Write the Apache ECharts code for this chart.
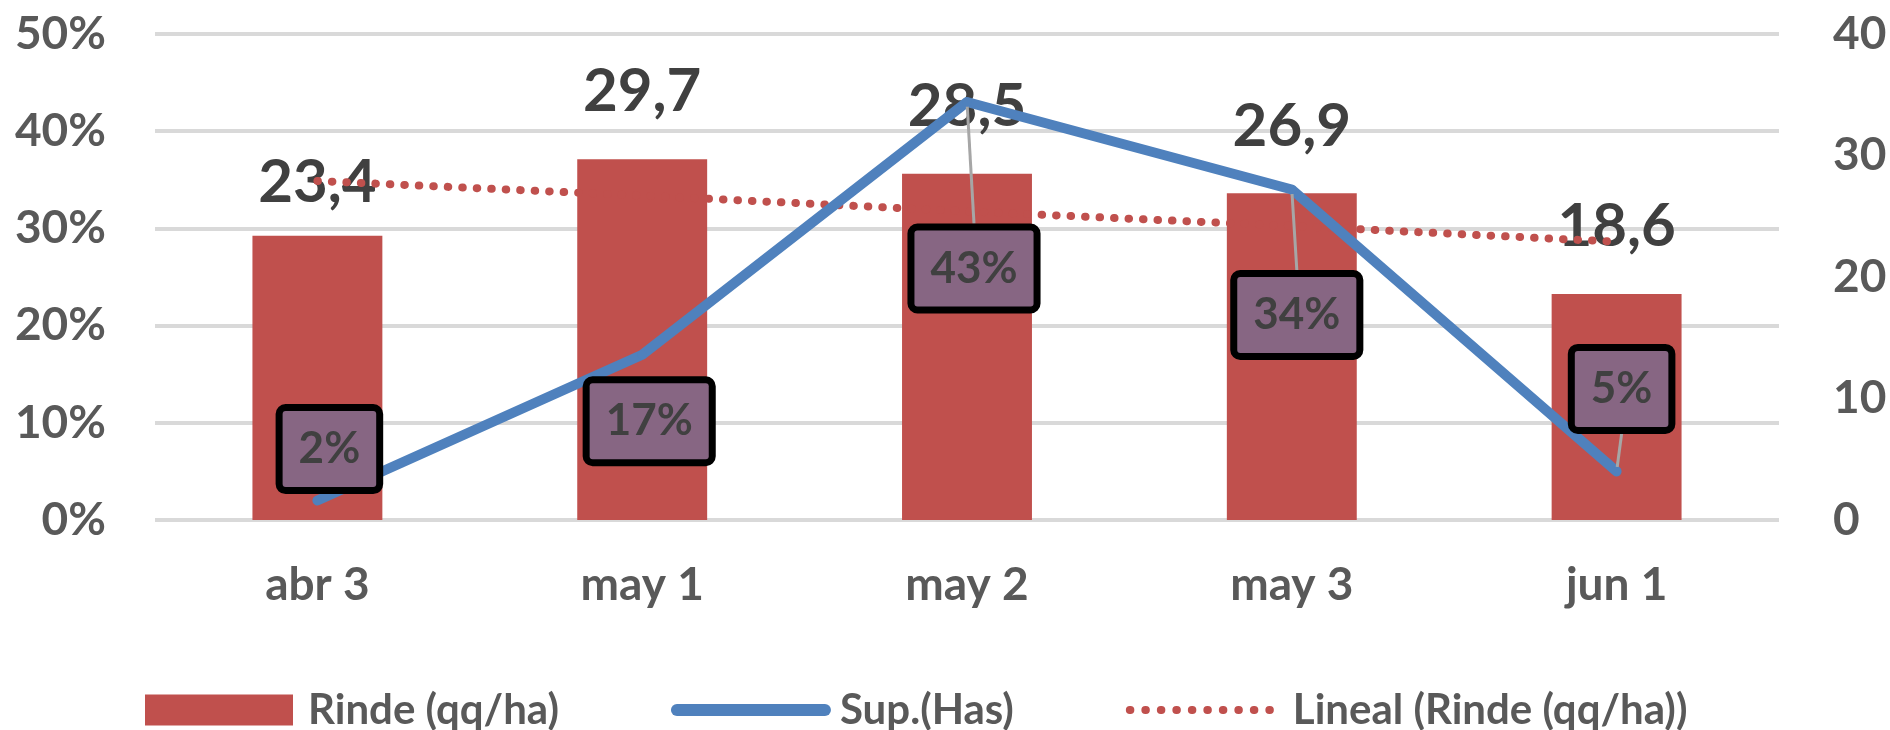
<!DOCTYPE html>
<html>
<head>
<meta charset="utf-8">
<script src="https://cdn.jsdelivr.net/npm/echarts@6/dist/echarts.min.js"></script>
<style>
  html, body { margin: 0; padding: 0; background: #fff; }
  #chart { width: 1890px; height: 730px; }
</style>
</head>
<body>
<div id="chart"></div>
<script>
// datos
const categories = ["abr 3", "may 1", "may 2", "may 3", "jun 1"];
const rinde = [23.4, 29.7, 28.5, 26.9, 18.6];          // qq/ha, eje derecho
const superficie = [0.02, 0.17, 0.43, 0.34, 0.05];      // % de has, eje izquierdo
const tendencia = [27.9, 26.7, 25.4, 24.2, 22.9];       // linea de tendencia lineal

// desplazamientos de etiquetas (solo estilo)
const boxShift = [[12, -4], [7, 114], [7, 214], [5, 173], [5, -35]];
const boxGuide = [false, false, true, true, true];
const rindeShift = [14, 0, 0, 0, 0];

const FONT = "Lato";

let option = {
  animation: false,
  backgroundColor: "#fff",
  grid: {
    left: 155,
    right: 111,
    top: 34,
    bottom: 210
  },
  legend: {
    left: 140,
    top: 684,
    itemWidth: 148,
    itemHeight: 31,
    itemGap: 112,
    textStyle: {
      fontFamily: FONT,
      fontWeight: "bold",
      fontSize: 42,
      color: "#595959",
      padding: [0, 0, 0, 10]
    },
    data: [
      { name: "Rinde (qq/ha)", icon: "rect" },
      {
        name: "Sup.(Has)",
        itemStyle: { opacity: 0 },
        lineStyle: { width: 12, cap: "round" }
      },
      {
        name: "Lineal (Rinde (qq/ha))",
        itemStyle: { opacity: 0 },
        lineStyle: { width: 8, type: [0.5, 15], cap: "round" }
      }
    ]
  },
  xAxis: [
    {
      type: "category",
      data: categories,
      axisLine: { show: false },
      axisTick: { show: false },
      axisLabel: {
        margin: 42,
        fontFamily: FONT,
        fontWeight: "bold",
        fontSize: 46,
        color: "#595959"
      }
    }
  ],
  yAxis: [
    {
      type: "value",
      min: 0,
      max: 0.5,
      interval: 0.1,
      axisLine: { show: false },
      axisTick: { show: false },
      splitLine: { lineStyle: { color: "#D9D9D9", width: 4 } },
      axisLabel: {
        margin: 49,
        fontFamily: FONT,
        fontWeight: "bold",
        fontSize: 46,
        color: "#595959",
        formatter: v => Math.round(v * 100) + "%"
      }
    },
    {
      type: "value",
      min: 0,
      max: 40,
      interval: 10,
      axisLine: { show: false },
      axisTick: { show: false },
      splitLine: { show: false },
      axisLabel: {
        margin: 54,
        fontFamily: FONT,
        fontWeight: "bold",
        fontSize: 46,
        color: "#595959"
      }
    }
  ],
  series: [
    {
      name: "Rinde (qq/ha)",
      type: "bar",
      yAxisIndex: 1,
      barWidth: "40%",
      z: 2,
      itemStyle: { color: "#C0504D" },
      label: {
        show: true,
        position: "top",
        distance: 37,
        fontFamily: FONT,
        fontWeight: "bold",
        fontSize: 60,
        color: "#404040",
        formatter: p => p.value.toFixed(1).replace(".", ",")
      },
      labelLayout: p => ({ dy: rindeShift[p.dataIndex] }),
      data: rinde
    },
    {
      name: "Lineal (Rinde (qq/ha))",
      type: "line",
      yAxisIndex: 1,
      z: 3,
      symbol: "none",
      itemStyle: { color: "#C0504D" },
      lineStyle: {
        color: "#C0504D",
        width: 8,
        type: [0.5, 14],
        cap: "round"
      },
      data: tendencia
    },
    {
      name: "Sup.(Has)",
      type: "line",
      yAxisIndex: 0,
      z: 4,
      symbol: "circle",
      symbolSize: 9,
      itemStyle: { color: "#4F81BD" },
      lineStyle: { color: "#4F81BD", width: 10, cap: "round", join: "round" },
      label: {
        show: true,
        position: "top",
        fontFamily: FONT,
        fontWeight: "bold",
        fontSize: 44,
        color: "#404040",
        backgroundColor: "#876683",
        borderColor: "#000",
        borderWidth: 7,
        borderRadius: 3,
        padding: [16, 16],
        formatter: p => Math.round(p.value * 100) + "%"
      },
      labelLine: {
        show: true,
        lineStyle: { color: "#A6A6A6", width: 3 }
      },
      labelLayout: p => ({ dx: boxShift[p.dataIndex][0], dy: boxShift[p.dataIndex][1] }),
      data: superficie.map((v, i) => ({ value: v, labelLine: { show: boxGuide[i] } }))
    }
  ]
};

let chart = echarts.init(document.getElementById("chart"));
chart.setOption(option);
</script>
</body>
</html>
